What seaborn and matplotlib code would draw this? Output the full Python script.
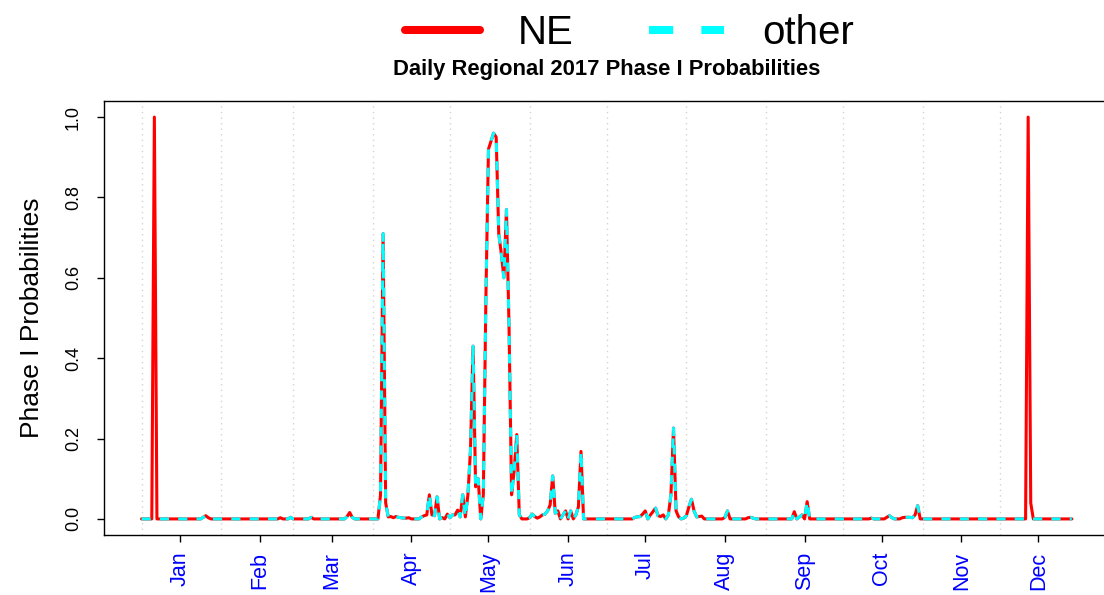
import numpy as np
import pandas as pd
import matplotlib
matplotlib.use("Agg")
import matplotlib.pyplot as plt
import matplotlib.dates as mdates
from matplotlib.lines import Line2D
import seaborn as sns

# ---------------------------------------------------------------------------
# Data: daily Phase I probabilities for 2017
# ---------------------------------------------------------------------------
dates = pd.date_range("2017-01-01", "2017-12-29", freq="D")

# day offsets (from Jan 1) with non-zero probability, shared by both regions
shared_days = [
    24, 25, 26, 54, 58, 66, 80, 81, 82,
    93, 94, 95, 96, 97, 98, 99, 100, 101, 102, 103, 104,
    109, 110, 111, 112, 113, 114, 115, 117, 119, 120, 121, 122, 123, 124,
    125, 126, 127, 128, 129, 130, 131, 133, 134, 135, 136, 137, 138, 139,
    140, 141, 142, 143, 144, 145, 146, 147,
    151, 152, 153, 154, 155, 156, 157, 158, 159, 160, 161, 162, 164, 165,
    167, 169, 170, 171,
    192, 193, 194, 195, 196, 198, 199, 200, 201, 202, 203, 205, 206, 207,
    208, 209, 211, 212, 213, 214, 215, 216, 217, 218,
    227, 228, 236, 237, 238, 254, 256, 257, 259,
    284, 290, 291, 292, 296, 297, 298, 299, 300, 301, 302,
]
shared_probs = [
    0.004, 0.008, 0.003, 0.003, 0.004, 0.004, 0.006, 0.016, 0.004,
    0.06, 0.71, 0.04, 0.005, 0.006, 0.003, 0.006, 0.004, 0.003, 0.002, 0.002, 0.003,
    0.005, 0.008, 0.01, 0.06, 0.01, 0.008, 0.055, 0.003, 0.012, 0.003, 0.01, 0.01, 0.022, 0.005,
    0.06, 0.005, 0.06, 0.17, 0.43, 0.08, 0.10, 0.06, 0.55, 0.92, 0.94, 0.96, 0.95, 0.71,
    0.66, 0.60, 0.77, 0.48, 0.06, 0.12, 0.21, 0.01,
    0.003, 0.012, 0.006, 0.002, 0.005, 0.01, 0.012, 0.02, 0.035, 0.107, 0.014, 0.02, 0.01, 0.02,
    0.02, 0.01, 0.03, 0.168,
    0.004, 0.005, 0.006, 0.012, 0.02, 0.01, 0.018, 0.027, 0.008, 0.006, 0.01, 0.01, 0.06, 0.226,
    0.02, 0.005, 0.002, 0.008, 0.03, 0.049, 0.02, 0.005, 0.006, 0.007,
    0.004, 0.02, 0.003, 0.004, 0.002, 0.018, 0.005, 0.01, 0.043,
    0.002, 0.004, 0.008, 0.003, 0.003, 0.004, 0.004, 0.004, 0.003, 0.01, 0.033,
]

# days where only the NE region is non-zero
ne_only_days = [5, 345, 346]
ne_only_probs = [1.0, 1.0, 0.04]

regions = ["NE", "other"]
region_colors = {"NE": "#FF0000", "other": "#00FFFF"}
month_labels = ["Jan", "Feb", "Mar", "Apr", "May", "Jun",
                "Jul", "Aug", "Sep", "Oct", "Nov", "Dec"]
y_ticks = [0.0, 0.2, 0.4, 0.6, 0.8, 1.0]

other = np.zeros(len(dates))
other[shared_days] = shared_probs
ne = other.copy()
ne[ne_only_days] = ne_only_probs

wide = pd.DataFrame({"date": dates, "NE": ne, "other": other})
long = wide.melt(id_vars="date", var_name="region", value_name="prob")

# ---------------------------------------------------------------------------
# Figure
# ---------------------------------------------------------------------------
sns.set_theme(style="white")
plt.rcParams["font.family"] = ["Liberation Sans", "DejaVu Sans"]
plt.rcParams["text.color"] = "black"
plt.rcParams["axes.labelcolor"] = "black"
plt.rcParams["xtick.color"] = "black"
plt.rcParams["ytick.color"] = "black"

W, H = 1104, 595
fig = plt.figure(figsize=(W / 100, H / 100), dpi=100)

x0 = mdates.date2num(dates[0])
x1 = mdates.date2num(dates[-1])
span = x1 - x0
px_per_day = 2.57
ax_left, ax_top, ax_bottom = 104.3, 101, 535
ax_width = span * 1.08 * px_per_day
ax = fig.add_axes([ax_left / W, 1 - ax_bottom / H, ax_width / W, (ax_bottom - ax_top) / H])

# month-start reference lines
for m in range(1, 13):
    ax.axvline(mdates.date2num(pd.Timestamp(2017, m, 1)), color="#D3D3D3",
               linestyle=(0, (1, 3)), linewidth=1.0, zorder=0)

sns.lineplot(data=long, x="date", y="prob", hue="region", style="region",
             hue_order=regions, style_order=regions, palette=region_colors,
             dashes={"NE": "", "other": (3, 3)}, linewidth=2.2,
             estimator=None, errorbar=None, legend=False, ax=ax)
for line in ax.lines[-2:]:
    line.set_solid_joinstyle("round")
    line.set_solid_capstyle("round")

ax.set_xlim(x0 - 0.04 * span, x1 + 0.04 * span)
ax.set_ylim(-0.04, 1.04)

tick_pos = [mdates.date2num(pd.Timestamp(2017, m, 16)) for m in range(1, 13)]
ax.set_xticks(tick_pos)
ax.set_xticklabels(month_labels, rotation=90, fontsize=15.5)
ax.set_yticks(y_ticks)
ax.set_yticklabels([f"{v:.1f}" for v in y_ticks], rotation=90, va="center", fontsize=13)

ax.tick_params(axis="both", direction="out", length=5, width=1.0, color="black",
               bottom=True, left=True)
ax.tick_params(axis="x", pad=7, labelcolor="#0000FF")
ax.tick_params(axis="y", pad=11, labelcolor="black")

for s in ax.spines.values():
    s.set_visible(True)
    s.set_color("black")
    s.set_linewidth(1.0)

ax.set_xlabel("")
ax.set_ylabel("Phase I Probabilities", fontsize=19, color="black")
ax.yaxis.set_label_coords((44.3 - ax_left) / ax_width, 0.5)

ax.set_title("Daily Regional 2017 Phase I Probabilities", fontsize=15.8,
             fontweight="bold", color="black", pad=18.7)

handles = [
    Line2D([], [], color=region_colors["NE"], linewidth=5.8, solid_capstyle="round"),
    Line2D([], [], color=region_colors["other"], linewidth=5.8, linestyle=(0, (3, 3.5))),
]
leg = fig.legend(handles, regions, loc="center left", bbox_to_anchor=(405 / W, 1 - 33 / H),
                 ncol=2, frameon=False, fontsize=29, handlelength=1.85, handletextpad=0.95,
                 columnspacing=1.88, borderpad=0, borderaxespad=0)
for t in leg.get_texts():
    t.set_color("black")

fig.savefig("out.png", dpi=100)
